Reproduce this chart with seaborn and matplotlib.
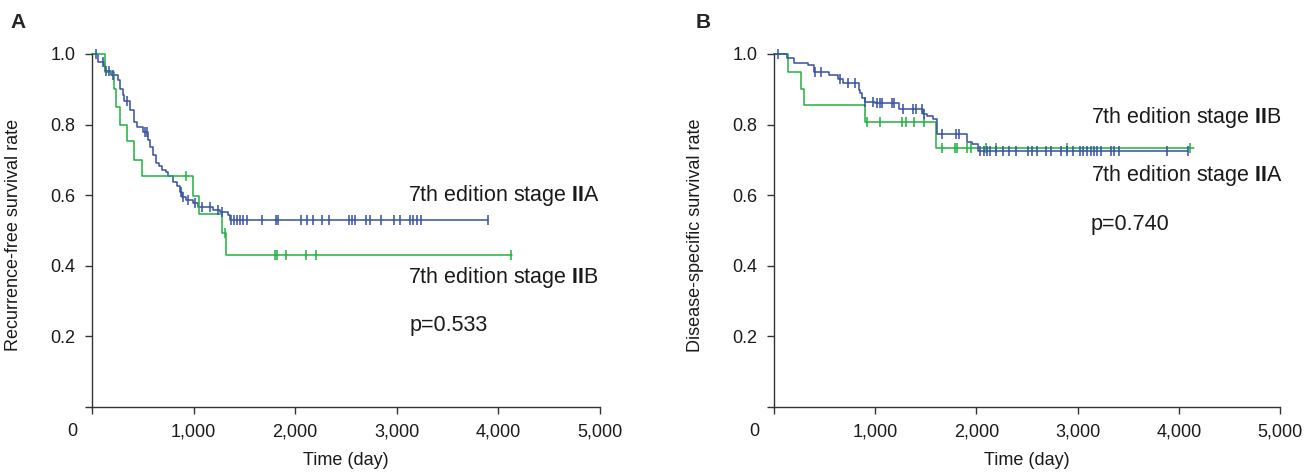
import matplotlib
matplotlib.use("Agg")
import matplotlib.pyplot as plt
import numpy as np
import pandas as pd
import seaborn as sns

sns.set_style("ticks")
plt.rcParams['font.family'] = ['Liberation Sans', 'DejaVu Sans']
plt.rcParams['mathtext.fontset'] = 'custom'
plt.rcParams['mathtext.rm'] = 'Liberation Sans'
plt.rcParams['mathtext.bf'] = 'Liberation Sans:bold'

BLUE = "#3650a3"
GREEN = "#1fb23f"

# ---- panel A: recurrence-free survival ----
a_iia_t = [59, 118, 125, 190, 256, 279, 302, 318, 371, 410, 446, 502, 551, 567, 600,
           630, 662, 686, 728, 751, 800, 833, 866, 883, 925, 997, 1046, 1194, 1260, 1341, 1358]
a_iia_s = [0.977, 0.965, 0.951, 0.941, 0.927, 0.900, 0.885, 0.868, 0.842, 0.807, 0.793, 0.778,
           0.757, 0.736, 0.715, 0.690, 0.683, 0.671, 0.665, 0.654, 0.638, 0.627, 0.610, 0.596,
           0.586, 0.577, 0.567, 0.558, 0.553, 0.544, 0.530]
a_iia_cens = [42, 108, 141, 170, 207, 348, 525, 538, 873, 898, 948, 1013, 1085, 1161, 1243,
              1276, 1368, 1400, 1427, 1456, 1489, 1522, 1670, 1810, 1833, 2056, 2112, 2174,
              2260, 2332, 2529, 2558, 2588, 2696, 2735, 2840, 2972, 3031, 3130, 3162, 3195,
              3234, 3894]
a_iia_end = 3894

a_iib_t = [128, 220, 236, 272, 348, 416, 489, 991, 1050, 1282, 1318]
a_iib_s = [0.950, 0.900, 0.851, 0.800, 0.754, 0.700, 0.654, 0.599, 0.546, 0.492, 0.430]
a_iib_cens = [925, 1309, 1800, 1817, 1906, 2103, 2201, 4123]
a_iib_end = 4133

# ---- panel B: disease-specific survival ----
b_iia_t = [126, 198, 340, 396, 548, 637, 681, 835, 852, 868, 900, 1000, 1231, 1475, 1515,
           1575, 1610, 1909, 1957, 2013]
b_iia_s = [0.988, 0.975, 0.969, 0.950, 0.940, 0.928, 0.917, 0.898, 0.889, 0.874, 0.865,
           0.860, 0.844, 0.829, 0.824, 0.815, 0.772, 0.750, 0.744, 0.725]
b_iia_cens = [43, 406, 465, 655, 727, 802, 901, 983, 1016, 1050, 1066, 1165, 1188, 1270,
              1369, 1403, 1462, 1485, 1660, 1802, 1826, 2040, 2072, 2106, 2139, 2198, 2264,
              2320, 2396, 2508, 2551, 2594, 2683, 2740, 2839, 2898, 2957, 3020, 3056, 3096,
              3129, 3162, 3195, 3228, 3327, 3360, 3409, 3888, 4086]
b_iia_end = 4090

b_iib_t = [140, 265, 300, 901, 1604]
b_iib_s = [0.948, 0.900, 0.856, 0.808, 0.733]
b_iib_cens = [915, 1050, 1265, 1304, 1386, 1485, 1665, 1785, 1805, 1907, 1945, 2092, 2190,
              2892, 4112]
b_iib_end = 4150

x_ticks = [0, 1000, 2000, 3000, 4000, 5000]
x_labels = ["", "1,000", "2,000", "3,000", "4,000", "5,000"]
y_ticks = [0, 0.2, 0.4, 0.6, 0.8, 1.0]
y_labels = ["", "0.2", "0.4", "0.6", "0.8", "1.0"]


def km_frame(times, surv, end):
    t = [0] + list(times) + [end]
    s = [1.0] + list(surv) + [surv[-1]]
    return pd.DataFrame({"time": t, "surv": s})


def censor_frame(times, surv, cens):
    idx = np.searchsorted(np.array(times), np.array(cens), side="right")
    levels = np.concatenate([[1.0], surv])[idx]
    return pd.DataFrame({"time": cens, "surv": levels})


def draw_curve(ax, times, surv, cens, end, color):
    sns.lineplot(data=km_frame(times, surv, end), x="time", y="surv", ax=ax, color=color,
                 drawstyle="steps-post", estimator=None, sort=False, lw=1.1, clip_on=False)
    sns.scatterplot(data=censor_frame(times, surv, cens), x="time", y="surv", ax=ax,
                    marker="|", s=55, linewidth=1.1, color=color, clip_on=False, zorder=3)


def style_axes(ax, ylabel):
    ax.set_xlim(0, 5000)
    ax.set_ylim(0, 1.0)
    ax.set_xticks(x_ticks)
    ax.set_xticklabels(x_labels)
    ax.set_yticks(y_ticks)
    ax.set_yticklabels(y_labels)
    sns.despine(ax=ax)
    for sp in ["left", "bottom"]:
        ax.spines[sp].set_color("#333333")
        ax.spines[sp].set_linewidth(1.0)
    ax.tick_params(labelsize=13, length=5, width=1.0, color="#333333", pad=7,
                   labelcolor="#1a1a1a")
    ax.set_xlabel("Time (day)", fontsize=13, color="#1a1a1a")
    ax.set_ylabel(ylabel, fontsize=13, color="#1a1a1a")
    ax.xaxis.set_label_coords(0.5, -0.128)
    ax.yaxis.set_label_coords(-0.138, 0.487)


fig = plt.figure(figsize=(13.07, 4.74), dpi=100)
axA = fig.add_axes([92 / 1307, 1 - 407 / 474, 508 / 1307, 353 / 474])
axB = fig.add_axes([774 / 1307, 1 - 407 / 474, 506 / 1307, 353 / 474])

draw_curve(axA, a_iia_t, a_iia_s, a_iia_cens, a_iia_end, BLUE)
draw_curve(axA, a_iib_t, a_iib_s, a_iib_cens, a_iib_end, GREEN)
draw_curve(axB, b_iib_t, b_iib_s, b_iib_cens, b_iib_end, GREEN)
draw_curve(axB, b_iia_t, b_iia_s, b_iia_cens, b_iia_end, BLUE)

style_axes(axA, "Recurrence-free survival rate")
style_axes(axB, "Disease-specific survival rate")

txt = dict(fontsize=15.5, va="center", ha="left", color="#1a1a1a")
axA.text(3110, 0.598, r"7th edition stage $\mathbf{II}$A", **txt)
axA.text(3110, 0.368, r"7th edition stage $\mathbf{II}$B", **txt)
axA.text(3130, 0.232, "p=0.533", **txt)
axB.text(3129, 0.819, r"7th edition stage $\mathbf{II}$B", **txt)
axB.text(3129, 0.657, r"7th edition stage $\mathbf{II}$A", **txt)
axB.text(3129, 0.516, "p=0.740", **txt)

# corner zero labels
fig.text(72 / 1307, 1 - 432 / 474, "0", fontsize=13, ha="center", va="center", color="#1a1a1a")
fig.text(754 / 1307, 1 - 432 / 474, "0", fontsize=13, ha="center", va="center", color="#1a1a1a")

fig.text(18 / 1307, 1 - 22 / 474, "A", fontsize=15, fontweight="bold", ha="center", va="center")
fig.text(703 / 1307, 1 - 22 / 474, "B", fontsize=15, fontweight="bold", ha="center", va="center")

fig.savefig("out.png", dpi=100)
